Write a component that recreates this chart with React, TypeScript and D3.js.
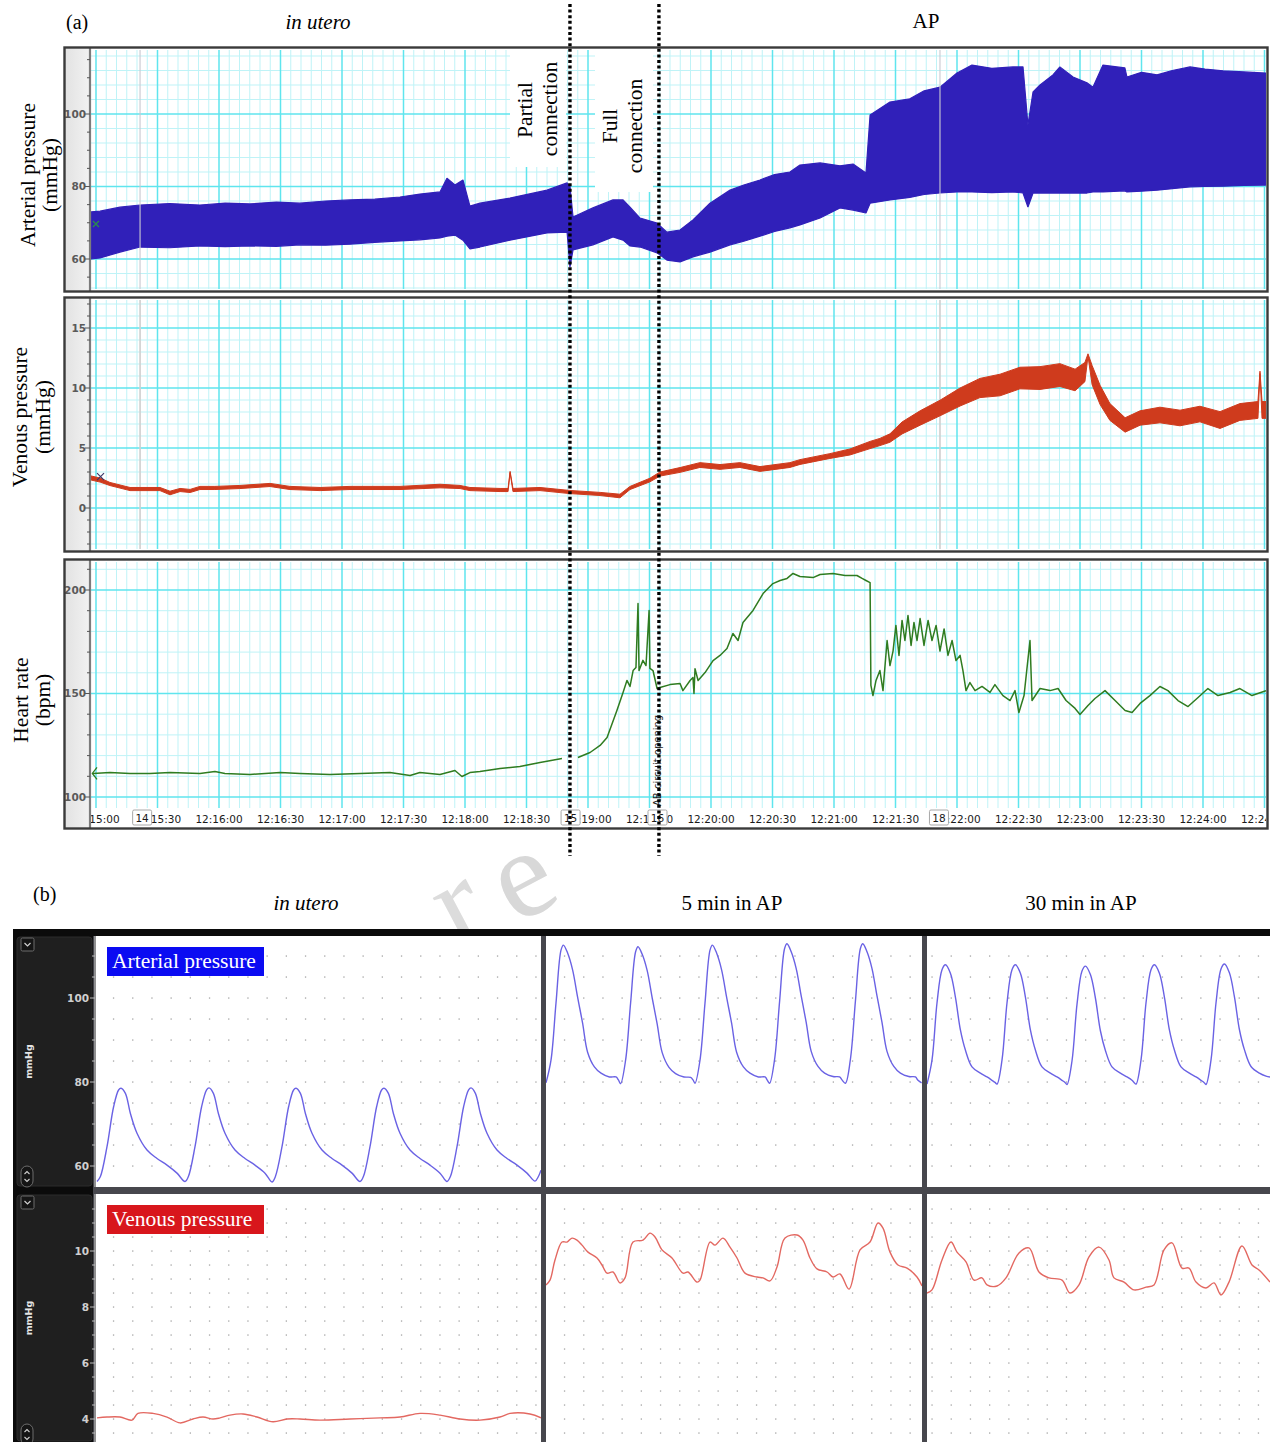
import React from "react";
import * as d3 from "d3";

// ================= Panel (a) data: seconds after 12:15:00 =================
const apTime = [-2.4, 2.0, 11.7, 21.5, 36.0, 50.7, 63.0, 75.1, 88.0, 99.5, 112.0, 123.9, 136.0, 148.3, 158.0, 167.8, 171.2, 175.1, 179.0, 182.4, 187.3, 201.9, 220.0, 229.8, 231.2, 232.7, 242.4, 252.2, 257.1, 260.5, 265.4, 273.7, 278.5, 284.9, 291.2, 299.5, 309.3, 316.0, 323.9, 331.0, 338.5, 343.4, 353.2, 362.9, 369.3, 375.6, 377.6, 387.3, 397.0, 404.0, 411.7, 420.0, 427.3, 437.0, 447.3, 452.2, 454.6, 457.1, 460.5, 466.8, 470.2, 476.6, 483.4, 486.3, 491.2, 501.9, 502.9, 510.0, 517.6, 525.0, 533.7, 541.0, 549.8, 560.0, 570.7];
const apUpper = [73.0, 73.2, 74.3, 74.9, 75.3, 74.9, 75.4, 75.2, 75.7, 75.4, 76.0, 76.3, 76.5, 77.1, 77.9, 78.5, 82.3, 80.4, 81.8, 74.6, 75.4, 76.8, 79.0, 81.0, 80.1, 71.6, 74.1, 76.3, 76.3, 74.3, 71.3, 69.9, 67.4, 68.0, 70.8, 75.4, 79.0, 80.4, 81.8, 83.3, 84.0, 85.9, 86.5, 85.7, 86.2, 83.7, 99.7, 103.3, 104.2, 106.4, 107.4, 111.3, 113.5, 112.6, 113.0, 113.0, 97.0, 106.1, 108.0, 110.8, 113.0, 110.2, 108.6, 107.4, 113.5, 112.7, 110.2, 111.5, 110.8, 112.0, 113.0, 112.4, 111.9, 111.6, 111.3];
const apLower = [60.0, 60.3, 61.9, 63.3, 63.1, 63.6, 63.4, 63.6, 63.5, 63.9, 63.8, 64.1, 64.6, 65.0, 65.3, 65.8, 66.3, 66.6, 65.2, 62.8, 63.3, 65.2, 67.2, 67.4, 57.8, 62.5, 63.9, 66.1, 65.2, 63.6, 63.3, 61.7, 59.7, 59.2, 60.6, 61.9, 63.9, 64.9, 66.3, 67.6, 68.6, 69.4, 71.3, 74.1, 73.5, 72.7, 75.4, 76.3, 77.0, 77.8, 78.2, 78.5, 78.5, 78.3, 78.5, 78.2, 74.3, 78.2, 78.2, 78.2, 78.2, 78.2, 78.2, 78.5, 78.5, 78.8, 78.5, 78.7, 79.0, 79.4, 79.9, 80.0, 80.1, 80.3, 80.4];

// [time s, mid mmHg, half-thickness mmHg]
const venous: [number, number, number][] = [
  [-2.4, 2.5, 0.17], [2.0, 2.33, 0.17], [6.8, 2.0, 0.13], [16.6, 1.58, 0.13], [31.2, 1.58, 0.13], [36.1, 1.25, 0.15], [41.0, 1.5, 0.13], [45.9, 1.42, 0.13], [50.7, 1.67, 0.13], [58.0, 1.67, 0.13], [70.2, 1.75, 0.13], [84.9, 1.92, 0.13], [94.6, 1.67, 0.13], [109.3, 1.58, 0.13], [123.9, 1.67, 0.13], [148.3, 1.67, 0.13], [167.8, 1.83, 0.15], [177.6, 1.75, 0.13], [182.4, 1.58, 0.13], [197.1, 1.5, 0.13], [201.0, 1.5, 0.13], [202.0, 3.0, 0.05], [203.4, 1.5, 0.13], [216.6, 1.58, 0.13], [231.2, 1.33, 0.13], [245.9, 1.17, 0.13], [255.6, 1.0, 0.15], [260.5, 1.67, 0.13], [270.2, 2.33, 0.15], [275.1, 2.83, 0.17], [284.9, 3.17, 0.2], [294.6, 3.58, 0.2], [304.4, 3.42, 0.2], [314.1, 3.58, 0.2], [323.9, 3.25, 0.2], [338.5, 3.58, 0.2], [343.4, 3.83, 0.2], [358.0, 4.33, 0.2], [367.8, 4.67, 0.25], [377.6, 5.25, 0.3], [382.4, 5.5, 0.3], [387.3, 5.83, 0.35], [393.2, 6.67, 0.5], [402.0, 7.5, 0.6], [411.7, 8.33, 0.65], [421.5, 9.25, 0.75], [431.2, 10.0, 0.8], [441.0, 10.25, 0.9], [450.7, 10.83, 0.9], [460.5, 10.83, 0.95], [470.2, 11.08, 0.95], [477.6, 10.67, 0.9], [482.4, 11.33, 0.8], [483.9, 12.75, 0.1], [485.9, 11.08, 0.8], [489.8, 9.42, 0.8], [494.6, 8.0, 0.7], [502.0, 6.92, 0.6], [509.3, 7.5, 0.6], [519.0, 7.75, 0.65], [528.8, 7.5, 0.65], [538.5, 7.83, 0.65], [548.3, 7.33, 0.7], [558.0, 8.0, 0.7], [566.8, 8.17, 0.7], [567.8, 11.3, 0.1], [568.8, 8.17, 0.7], [570.7, 8.17, 0.7],
];

// [time s, bpm]; null = gap in recording
const heartRate: [number, number | null][] = [
  [-1.5, 111.4], [6.8, 111.8], [16.6, 111.4], [26.3, 111.4], [36.1, 111.8], [50.7, 111.4], [58.0, 112.3], [62.9, 111.4], [75.1, 110.9], [89.8, 111.8], [99.5, 111.4], [114.1, 110.9], [128.8, 111.4], [143.4, 111.8], [153.2, 110.4], [158.0, 111.8], [167.8, 110.9], [175.1, 112.8], [178.5, 109.9], [182.4, 111.8], [187.3, 112.3], [197.1, 113.8], [206.8, 114.7], [216.6, 116.7], [227.3, 118.6], [231, null],
  [235.1, 119.1], [241.0, 121.5], [245.9, 124.9], [249.3, 128.7], [254.1, 141.8], [257.1, 150.5], [259.0, 156.3], [260.5, 153.4], [262.0, 161.1], [263.4, 162.6], [264.4, 193.5], [264.9, 161.1], [266.8, 166.0], [268.3, 163.5], [269.8, 190.1], [270.2, 162.1], [271.7, 161.1], [273.7, 152.4], [275.1, 152.9], [280.0, 154.3], [284.9, 154.8], [286.3, 151.4], [289.8, 156.3], [291.2, 157.7], [291.7, 150.0], [292.2, 162.0], [293.7, 156.3], [297.1, 160.1], [301.0, 165.9], [304.4, 168.4], [307.8, 171.7], [310.7, 179.0], [313.2, 175.6], [315.6, 184.3], [320.5, 190.1], [325.4, 198.3], [330.2, 203.1], [333.7, 204.6], [337.1, 205.6], [340.0, 208.0], [343.4, 206.5], [349.8, 206.0], [353.2, 207.5], [359.5, 208.0], [365.4, 207.0], [371.2, 207.0], [373.7, 205.6], [375.6, 204.6], [377.6, 203.6],
  [378.0, 153.9], [379.0, 149.0], [380.5, 156.3], [382.4, 161.1], [383.9, 151.4], [385.9, 175.6], [387.3, 163.5], [388.8, 170.5], [390.2, 182.9], [391.7, 168.4], [393.2, 185.3], [394.6, 175.6], [396.1, 187.7], [397.6, 173.2], [399.0, 184.3], [400.5, 175.6], [402.0, 186.2], [403.9, 173.2], [405.9, 185.3], [407.8, 175.6], [409.8, 182.9], [411.7, 170.5], [413.7, 181.2], [415.6, 168.4], [417.6, 175.6], [419.5, 165.9], [421.5, 168.4], [422.9, 161.1], [424.4, 151.4], [426.3, 155.3], [428.8, 151.4], [432.2, 153.4], [436.1, 150.5], [438.5, 154.3], [442.4, 149.0], [445.9, 146.6], [448.3, 151.4], [450.2, 140.8], [452.7, 149.0], [455.6, 175.6], [456.6, 146.6], [460.5, 152.4], [465.4, 151.4], [469.3, 152.4], [473.2, 146.6], [477.6, 142.8], [480.0, 139.9], [483.9, 144.2], [487.3, 147.6], [492.2, 151.4], [497.1, 146.6], [502.0, 141.8], [505.4, 140.8], [509.3, 145.2], [514.1, 149.0], [519.0, 153.4], [522.9, 151.4], [527.8, 146.6], [532.7, 143.7], [537.6, 148.1], [542.4, 152.4], [547.3, 149.0], [553.2, 150.5], [558.0, 152.4], [563.9, 149.0], [570.7, 151.4],
];

const clockLabels = ["12:15:00", "12:15:30", "12:16:00", "12:16:30", "12:17:00", "12:17:30", "12:18:00", "12:18:30", "12:19:00", "12:19:30", "12:20:00", "12:20:30", "12:21:00", "12:21:30", "12:22:00", "12:22:30", "12:23:00", "12:23:30", "12:24:00", "12:24:30"];
const clockTimes = [0, 30, 60, 90, 120, 150, 180, 210, 240, 270, 300, 330, 360, 390, 420, 450, 480, 510, 540, 570];
const eventLabels = ["14", "15", "16", "18"];
const eventTimes = [22.5, 231.5, 273.9, 411.2];
const markerTimes = [21.5, 411.7];
const dottedTimes = [231.2, 274.6];

// ================= Panel (b) data: [ms, mmHg] =================
const artUtero: [number, number][] = [
  [0, 56.3], [17, 57.5], [50, 64.6], [83, 74.1], [108, 78.1], [120, 78.5], [142, 77.3], [167, 72.5], [200, 67.8], [250, 63.8], [300, 61.8], [350, 60.2], [400, 58.3],
  [440, 56.3], [457, 57.5], [490, 64.6], [523, 74.1], [548, 78.1], [560, 78.6], [582, 77.3], [607, 72.5], [640, 67.8], [690, 63.8], [740, 61.8], [790, 60.2], [840, 58.3],
  [875, 56.2], [892, 57.5], [925, 64.6], [958, 74.1], [983, 78.1], [995, 78.5], [1017, 77.3], [1042, 72.5], [1075, 67.8], [1125, 63.8], [1175, 61.8], [1225, 60.2], [1275, 58.3],
  [1315, 56.3], [1332, 57.5], [1365, 64.6], [1398, 74.1], [1423, 78.1], [1435, 78.5], [1457, 77.3], [1482, 72.5], [1515, 67.8], [1565, 63.8], [1615, 61.8], [1665, 60.2], [1715, 58.3],
  [1750, 56.3], [1767, 57.5], [1800, 64.6], [1833, 74.1], [1858, 78.1], [1870, 78.6], [1892, 77.3], [1917, 72.5], [1950, 67.8], [2000, 63.8], [2050, 61.8], [2100, 60.2], [2150, 58.3],
  [2190, 56.4], [2207, 57.5], [2220, 59.0],
];
const artAp5: [number, number][] = [
  [0, 79.8], [25, 85.2], [50, 98.8], [75, 111.4], [87, 112.6], [108, 110.7], [133, 106.7], [158, 100.2], [183, 94.0], [208, 87.1], [242, 83.6], [275, 82.1], [317, 81.2], [350, 81.2], [362, 80.5],
  [373, 79.6], [398, 85.2], [423, 98.8], [448, 111.0], [460, 112.2], [481, 110.4], [506, 106.5], [531, 100.0], [556, 93.8], [581, 87.0], [615, 83.5], [648, 82.0], [690, 81.2], [723, 81.1], [735, 80.5],
  [745, 79.7], [770, 85.2], [795, 98.8], [820, 111.4], [832, 112.6], [853, 110.7], [878, 106.7], [903, 100.2], [928, 94.0], [953, 87.1], [987, 83.6], [1020, 82.1], [1062, 81.2], [1095, 81.2], [1107, 80.4],
  [1118, 79.7], [1143, 85.4], [1168, 99.2], [1193, 111.8], [1205, 112.9], [1226, 111.0], [1251, 107.0], [1276, 100.5], [1301, 94.2], [1326, 87.3], [1360, 83.7], [1393, 82.1], [1435, 81.3], [1468, 81.2], [1480, 80.5],
  [1497, 79.7], [1522, 85.4], [1547, 99.2], [1572, 111.8], [1584, 112.9], [1605, 111.0], [1630, 107.0], [1655, 100.5], [1680, 94.2], [1705, 87.3], [1739, 83.7], [1772, 82.1], [1814, 81.3], [1847, 81.2], [1860, 80.4],
  [1878, 79.8],
];
const artAp30: [number, number][] = [
  [0, 79.5], [25, 85.2], [50, 98.8], [75, 106.7], [92, 107.9], [117, 105.9], [142, 100.2], [167, 92.4], [192, 87.6], [225, 83.6], [267, 82.1], [300, 81.2], [325, 80.4], [340, 79.9],
  [350, 79.5], [375, 85.2], [400, 98.8], [425, 106.7], [442, 107.9], [467, 105.9], [492, 100.2], [517, 92.4], [542, 87.6], [575, 83.6], [617, 82.1], [650, 81.2], [675, 80.4], [690, 79.9],
  [700, 79.4], [725, 85.0], [750, 98.5], [775, 106.4], [792, 107.6], [817, 105.6], [842, 100.0], [867, 92.2], [892, 87.5], [925, 83.6], [967, 82.1], [1000, 81.2], [1025, 80.4], [1035, 79.9],
  [1045, 79.5], [1070, 85.2], [1095, 98.8], [1120, 106.7], [1137, 107.9], [1162, 105.9], [1187, 100.2], [1212, 92.4], [1237, 87.6], [1270, 83.6], [1312, 82.1], [1345, 81.2], [1370, 80.4], [1385, 79.9],
  [1395, 79.4], [1420, 85.2], [1445, 98.8], [1470, 106.9], [1487, 108.1], [1512, 106.0], [1537, 100.3], [1562, 92.5], [1587, 87.7], [1620, 83.7], [1662, 82.1], [1695, 81.4], [1715, 81.2],
];
const venUtero: [number, number][] = [
  [0, 4.04], [50, 4.07], [115, 4.07], [175, 3.96], [205, 4.2], [280, 4.2], [350, 4.07], [415, 3.86], [480, 4.0], [530, 4.07], [580, 4.0], [615, 4.04], [665, 4.14], [730, 4.18], [800, 4.07], [880, 3.9], [950, 4.0], [1015, 4.0], [1115, 3.96], [1265, 4.0], [1415, 4.04], [1515, 4.07], [1615, 4.2], [1715, 4.14], [1815, 4.0], [1915, 3.96], [2015, 4.07], [2065, 4.2], [2165, 4.18], [2220, 4.04],
];
const venAp5: [number, number][] = [
  [0, 8.79], [20, 8.96], [45, 9.68], [80, 10.32], [105, 10.32], [130, 10.46], [155, 10.39], [180, 10.21], [210, 9.96], [255, 9.75], [280, 9.5], [305, 9.21], [335, 9.25], [370, 8.86], [395, 9.04], [435, 10.32], [485, 10.39], [520, 10.64], [545, 10.5], [580, 10.04], [630, 9.75], [685, 9.21], [710, 9.25], [755, 8.89], [770, 8.96], [820, 10.32], [845, 10.21], [885, 10.46], [920, 10.14], [955, 9.75], [995, 9.21], [1055, 9.07], [1085, 9.04], [1120, 8.93], [1155, 9.43], [1195, 10.46], [1255, 10.57], [1285, 10.39], [1320, 9.75], [1355, 9.36], [1405, 9.25], [1435, 9.07], [1470, 9.18], [1515, 8.64], [1570, 10.04], [1620, 10.32], [1660, 11.0], [1685, 10.82], [1720, 9.96], [1760, 9.5], [1805, 9.39], [1855, 9.07], [1880, 8.75],
];
const venAp30: [number, number][] = [
  [0, 8.5], [25, 8.61], [75, 9.68], [120, 10.32], [150, 9.96], [195, 9.61], [235, 8.96], [275, 9.04], [300, 8.79], [350, 8.75], [395, 9.04], [460, 9.93], [510, 10.11], [560, 9.25], [610, 9.04], [675, 8.96], [715, 8.5], [760, 8.79], [810, 9.79], [860, 10.14], [910, 9.68], [935, 9.04], [985, 8.89], [1035, 8.61], [1095, 8.71], [1135, 8.79], [1185, 10.04], [1225, 10.29], [1275, 9.39], [1310, 9.39], [1345, 8.89], [1395, 8.68], [1435, 8.86], [1470, 8.43], [1510, 8.89], [1575, 10.18], [1625, 9.5], [1660, 9.32], [1715, 8.89],
];
const columnTitles = ["in utero", "5 min in AP", "30 min in AP"];

function stepRange(lo: number, hi: number, step: number): number[] {
  const out: number[] = [];
  const start = Math.ceil(lo / step - 1e-9) * step;
  for (let v = start; v <= hi + 1e-9; v += step) out.push(Math.round(v * 1000) / 1000);
  return out;
}
const isMult = (v: number, m: number) => Math.abs(v / m - Math.round(v / m)) < 1e-6;

export default function App() {
  const serif = "'Liberation Serif', 'Times New Roman', serif";
  const sans = "'DejaVu Sans', 'Liberation Sans', sans-serif";

  // ---------- (a) ----------
  const plotL = 91, plotR = 1266;
  const xA = d3.scaleLinear().domain([0, 540]).range([96, 1203]);
  const tMin = xA.invert(plotL), tMax = xA.invert(plotR);
  const vMajor = stepRange(tMin, tMax, 30);
  const vMinor = stepRange(tMin, tMax, 5).filter((t) => !isMult(t, 30));

  const yArt = d3.scaleLinear().domain([60, 100]).range([259, 114]);
  const yVen = d3.scaleLinear().domain([0, 15]).range([508, 328]);
  const yHr = d3.scaleLinear().domain([100, 200]).range([797, 590]);

  const panels = [
    { id: "art", top: 50, bottom: 289, fTop: 48, fBottom: 291, y: yArt, major: 20, minor: 4, tick: 5 },
    { id: "ven", top: 300, bottom: 549, fTop: 298, fBottom: 551, y: yVen, major: 5, minor: 1, tick: 1 },
    { id: "hr", top: 562, bottom: 808, fTop: 560, fBottom: 828, y: yHr, major: 50, minor: 10, tick: 10 },
  ];

  const artArea = d3.area<number>()
    .x((i) => xA(apTime[i]))
    .y0((i) => yArt(apLower[i]))
    .y1((i) => yArt(apUpper[i]));
  const venArea = d3.area<[number, number, number]>()
    .x((d) => xA(d[0]))
    .y0((d) => yVen(d[1] - d[2]))
    .y1((d) => yVen(d[1] + d[2]));
  const hrLine = d3.line<[number, number | null]>()
    .defined((d) => d[1] !== null)
    .x((d) => xA(d[0]))
    .y((d) => yHr(d[1] as number));

  // ---------- (b) ----------
  const rows = [
    { id: "r1", top: 936, bottom: 1187, y: d3.scaleLinear().domain([60, 100]).range([1166, 998]), step: 5, major: 20, label: "Arterial pressure", box: "#0b0bf2" },
    { id: "r2", top: 1194, bottom: 1442, y: d3.scaleLinear().domain([4, 10]).range([1419, 1251]), step: 0.5, major: 2, label: "Venous pressure", box: "#d8161c" },
  ];
  const cols = [
    { left: 96, right: 541, origin: 97, dot0: 113.5, art: artUtero, ven: venUtero, cx: 306 },
    { left: 546, right: 922, origin: 546, dot0: 564.5, art: artAp5, ven: venAp5, cx: 732 },
    { left: 927, right: 1270, origin: 927, dot0: 932, art: artAp30, ven: venAp30, cx: 1081 },
  ];

  return (
    <svg width={1270} height={1442} style={{ position: "absolute", left: 0, top: 0, background: "#fff" }} fontFamily={serif}>
      <defs>
        {panels.map((p) => (
          <clipPath id={`clip-${p.id}`} key={p.id}>
            <rect x={plotL} y={p.top} width={plotR - plotL} height={p.bottom - p.top} />
          </clipPath>
        ))}
        <clipPath id="clip-strip">
          <rect x={plotL} y={808} width={plotR - plotL} height={19} />
        </clipPath>
        {rows.map((r) =>
          cols.map((c, ci) => (
            <clipPath id={`clip-${r.id}-${ci}`} key={`${r.id}${ci}`}>
              <rect x={c.left} y={r.top} width={c.right - c.left} height={r.bottom - r.top} />
            </clipPath>
          ))
        )}
        <linearGradient id="stripGrad" x1="0" x2="1" y1="0" y2="0">
          <stop offset="0" stopColor="#e2e2e2" />
          <stop offset="1" stopColor="#f2f2f2" />
        </linearGradient>
      </defs>

      {/* ===================== (a) ===================== */}
      <text x={66} y={29} fontSize={20}>(a)</text>
      <text x={318} y={29} fontSize={21} fontStyle="italic" textAnchor="middle">in utero</text>
      <text x={926} y={28} fontSize={21} textAnchor="middle">AP</text>

      {panels.map((p) => {
        const lo = p.y.invert(p.bottom), hi = p.y.invert(p.top);
        const hVals = stepRange(Math.min(lo, hi), Math.max(lo, hi), p.minor);
        return (
          <g key={p.id}>
            <rect x={plotL} y={p.top} width={plotR - plotL} height={p.bottom - p.top} fill="#fff" />
            <g clipPath={`url(#clip-${p.id})`}>
              {vMinor.map((t) => (
                <line key={`vm${t}`} x1={xA(t)} x2={xA(t)} y1={p.top} y2={p.bottom} stroke="#bff3f7" strokeWidth={1} />
              ))}
              {hVals.filter((v) => !isMult(v, p.major)).map((v) => (
                <line key={`hm${v}`} x1={plotL} x2={plotR} y1={p.y(v)} y2={p.y(v)} stroke="#bff3f7" strokeWidth={1} />
              ))}
              {vMajor.map((t) => (
                <line key={`vM${t}`} x1={xA(t)} x2={xA(t)} y1={p.top} y2={p.bottom} stroke="#5fe5ee" strokeWidth={1.5} />
              ))}
              {hVals.filter((v) => isMult(v, p.major)).map((v) => (
                <line key={`hM${v}`} x1={plotL} x2={plotR} y1={p.y(v)} y2={p.y(v)} stroke="#5fe5ee" strokeWidth={1.5} />
              ))}
            </g>
          </g>
        );
      })}

      {/* label boxes in top panel */}
      <rect x={510} y={50} width={56} height={117} fill="#fff" />
      <rect x={595} y={50} width={58} height={142} fill="#fff" />

      {/* data (a) */}
      <g clipPath="url(#clip-art)">
        <path d={artArea(d3.range(apTime.length)) || ""} fill="#3020b9" stroke="#3020b9" strokeWidth={1.2} strokeLinejoin="bevel" />
        {markerTimes.map((t) => (
          <line key={`mk${t}`} x1={xA(t)} x2={xA(t)} y1={50} y2={289} stroke="#c9c9d2" strokeWidth={1.6} strokeOpacity={0.7} />
        ))}
        <path d={`M${xA(-1.5)},${yArt(70.5)} l6,6 M${xA(-1.5) + 6},${yArt(70.5)} l-6,6`} stroke="#2a8a4e" strokeWidth={1.4} />
      </g>
      <g clipPath="url(#clip-ven)">
        {markerTimes.map((t) => (
          <line key={`mv${t}`} x1={xA(t)} x2={xA(t)} y1={300} y2={549} stroke="#cfcfcf" strokeWidth={1.6} />
        ))}
        <path d={venArea(venous) || ""} fill="#cf3b1d" stroke="#cf3b1d" strokeWidth={1} />
        <path d={`M${xA(0.5)},${yVen(2.9)} l7,7 M${xA(0.5) + 7},${yVen(2.9)} l-7,7`} stroke="#3a3a6a" strokeWidth={1.2} />
      </g>
      <g clipPath="url(#clip-hr)">
        <path d={hrLine(heartRate) || ""} fill="none" stroke="#2f7c20" strokeWidth={1.5} strokeLinejoin="round" />
        <path d={`M${xA(0.5)},${yHr(108.5)} L${xA(-1.8)},${yHr(111.4)} L${xA(0.5)},${yHr(114.3)}`} fill="none" stroke="#2f7c20" strokeWidth={1.3} />
      </g>

      {/* AB circuit opening */}
      <text transform={`translate(${xA(275.5)},806) rotate(-90)`} fontFamily={sans} fontSize={10} fill="#222">AB circuit opening</text>

      {/* x-axis strip of HR panel */}
      <rect x={plotL} y={808} width={plotR - plotL} height={19} fill="#fff" />
      <g clipPath="url(#clip-strip)">
        {clockTimes.map((t, i) => (
          <text key={clockLabels[i]} x={xA(t)} y={823} textAnchor="middle" fontFamily={sans} fontSize={10.5} fill="#1a1a1a">{clockLabels[i]}</text>
        ))}
        {eventTimes.map((t, i) => (
          <g key={eventLabels[i]}>
            <rect x={xA(t) - 9.5} y={810} width={19} height={15} fill="#fff" stroke="#a8a8a8" strokeWidth={1} rx={1.5} />
            <text x={xA(t)} y={822} textAnchor="middle" fontFamily={sans} fontSize={10.5} fill="#1a1a1a">{eventLabels[i]}</text>
          </g>
        ))}
      </g>

      {/* y strips and frames */}
      {panels.map((p) => {
        const lo = p.y.invert(p.bottom), hi = p.y.invert(p.top);
        const ticks = stepRange(Math.min(lo, hi), Math.max(lo, hi), p.tick);
        const labels = ticks.filter((v) => isMult(v, p.major));
        return (
          <g key={`s${p.id}`}>
            <rect x={65} y={p.fTop} width={25} height={p.fBottom - p.fTop} fill="url(#stripGrad)" />
            <line x1={90} x2={90} y1={p.fTop} y2={p.fBottom} stroke="#7c7c7c" strokeWidth={2.2} />
            {ticks.map((v) => (
              <line key={`t${v}`} x1={isMult(v, p.major) ? 85 : 87} x2={90} y1={p.y(v)} y2={p.y(v)} stroke="#555" strokeWidth={1} />
            ))}
            {labels.map((v) => (
              <text key={`l${v}`} x={86} y={p.y(v)} dy="0.35em" textAnchor="end" fontFamily={sans} fontSize={10.5} fontWeight="bold" fill="#5a5a5a">{v}</text>
            ))}
            <rect x={64.5} y={p.fTop - 0.5} width={1203} height={p.fBottom - p.fTop + 1} fill="none" stroke="#3a3a3a" strokeWidth={2.4} />
          </g>
        );
      })}

      {/* connection labels */}
      <text transform={`translate(${xA(212.9)},110) rotate(-90)`} fontSize={21.5} textAnchor="middle">Partial</text>
      <text transform={`translate(${xA(225.1)},109) rotate(-90)`} fontSize={21.5} textAnchor="middle">connection</text>
      <text transform={`translate(${xA(254.1)},126) rotate(-90)`} fontSize={21.5} textAnchor="middle">Full</text>
      <text transform={`translate(${xA(266.3)},126) rotate(-90)`} fontSize={21.5} textAnchor="middle">connection</text>

      {/* y titles */}
      <text transform="translate(35,175) rotate(-90)" fontSize={21.5} textAnchor="middle">Arterial pressure</text>
      <text transform="translate(57,175) rotate(-90)" fontSize={21.5} textAnchor="middle">(mmHg)</text>
      <text transform="translate(27,417) rotate(-90)" fontSize={21.5} textAnchor="middle">Venous pressure</text>
      <text transform="translate(50,417) rotate(-90)" fontSize={21.5} textAnchor="middle">(mmHg)</text>
      <text transform="translate(28,700) rotate(-90)" fontSize={21.5} textAnchor="middle">Heart rate</text>
      <text transform="translate(50,700) rotate(-90)" fontSize={21.5} textAnchor="middle">(bpm)</text>

      {/* watermark */}
      <text transform="translate(540,912) rotate(-28)" fontSize={125} fill="#d8d8d8" textAnchor="middle">e</text>
      <text transform="translate(476,940) rotate(-28)" fontSize={125} fill="#dcdcdc" textAnchor="middle">r</text>

      {/* dotted event lines */}
      {dottedTimes.map((t) => (
        <line key={`d${t}`} x1={xA(t)} x2={xA(t)} y1={4} y2={856} stroke="#000" strokeWidth={3.4} strokeDasharray="3 2.6" />
      ))}

      {/* ===================== (b) ===================== */}
      <text x={33} y={901} fontSize={20}>(b)</text>
      {cols.map((c, i) => (
        <text key={columnTitles[i]} x={c.cx} y={910} fontSize={21} textAnchor="middle" fontStyle={i === 0 ? "italic" : "normal"}>{columnTitles[i]}</text>
      ))}

      <rect x={13} y={929} width={1257} height={513} fill="#0b0b0b" />
      <rect x={93} y={936} width={1177} height={506} fill="#47474d" />
      {rows.map((r) => (
        <rect key={`ls${r.id}`} x={17} y={r.top + 1} width={75} height={r.bottom - r.top - 2} rx={3} fill="#1f1f1f" stroke="#2c2c2c" strokeWidth={1} />
      ))}

      {rows.map((r) =>
        cols.map((c, ci) => {
          const xs = d3.scaleLinear().domain([0, 1000]).range([c.origin, c.origin + 200]);
          const lo = r.y.invert(r.bottom), hi = r.y.invert(r.top);
          const dotRows = stepRange(lo, hi, r.step).filter((v) => r.y(v) > r.top + 3 && r.y(v) < r.bottom - 3);
          const dotCols = d3.range(c.dot0, c.right - 2, 19.2);
          const data = r.id === "r1" ? c.art : c.ven;
          const line = d3.line<[number, number]>()
            .x((d) => xs(d[0]))
            .y((d) => r.y(d[1]))
            .curve(d3.curveCatmullRom.alpha(0.5));
          return (
            <g key={`${r.id}${ci}`}>
              <rect x={c.left} y={r.top} width={c.right - c.left} height={r.bottom - r.top} fill="#fff" />
              <g clipPath={`url(#clip-${r.id}-${ci})`}>
                {dotRows.map((v) =>
                  dotCols.map((x) => (
                    <rect key={`${v}-${x}`} x={x - 0.6} y={r.y(v) - 0.6} width={1.3} height={1.3} fill="#a4a4a4" />
                  ))
                )}
                <path d={line(data) || ""} fill="none" stroke={r.id === "r1" ? "#6a62e4" : "#e36861"} strokeWidth={1.4} />
              </g>
            </g>
          );
        })
      )}

      {/* left axes (b) */}
      {rows.map((r) => {
        const lo = r.y.invert(r.bottom), hi = r.y.invert(r.top);
        const ticks = stepRange(lo, hi, r.step).filter((v) => r.y(v) > r.top + 2 && r.y(v) < r.bottom - 2);
        const mid = (r.top + r.bottom) / 2;
        return (
          <g key={`ax${r.id}`}>
            <line x1={95} x2={95} y1={r.top} y2={r.bottom} stroke="#a8a8a8" strokeWidth={1.5} />
            {ticks.map((v) => (
              <line key={`bt${v}`} x1={isMult(v, r.major) ? 90 : 92} x2={95} y1={r.y(v)} y2={r.y(v)} stroke="#bdbdbd" strokeWidth={1} />
            ))}
            {ticks.filter((v) => isMult(v, r.major)).map((v) => (
              <text key={`bl${v}`} x={89} y={r.y(v)} dy="0.35em" textAnchor="end" fontFamily={sans} fontSize={10.5} fontWeight="bold" fill="#cfcfcf">{v}</text>
            ))}
            <text transform={`translate(32,${mid}) rotate(-90)`} textAnchor="middle" fontFamily={sans} fontSize={9.5} fontWeight="bold" fill="#e4e4e4">mmHg</text>
            <rect x={21} y={r.top + 2} width={13} height={13} rx={1.5} fill="#151515" stroke="#6c6c6c" strokeWidth={1} />
            <path d={`M24.5,${r.top + 7} l3,3 l3,-3`} fill="none" stroke="#d0d0d0" strokeWidth={1.2} />
            <rect x={21} y={r.top + 230} width={12} height={21} rx={6} fill="#151515" stroke="#6c6c6c" strokeWidth={1} />
            <path d={`M24.5,${r.top + 238} l2.5,-2.5 l2.5,2.5 M24.5,${r.top + 243} l2.5,2.5 l2.5,-2.5`} fill="none" stroke="#d0d0d0" strokeWidth={1.1} />
            <rect x={107} y={r.top + 11} width={157} height={29} fill={r.box} />
            <text x={112} y={r.top + 32} fontSize={21.5} fill="#fff">{r.label}</text>
          </g>
        );
      })}
    </svg>
  );
}
